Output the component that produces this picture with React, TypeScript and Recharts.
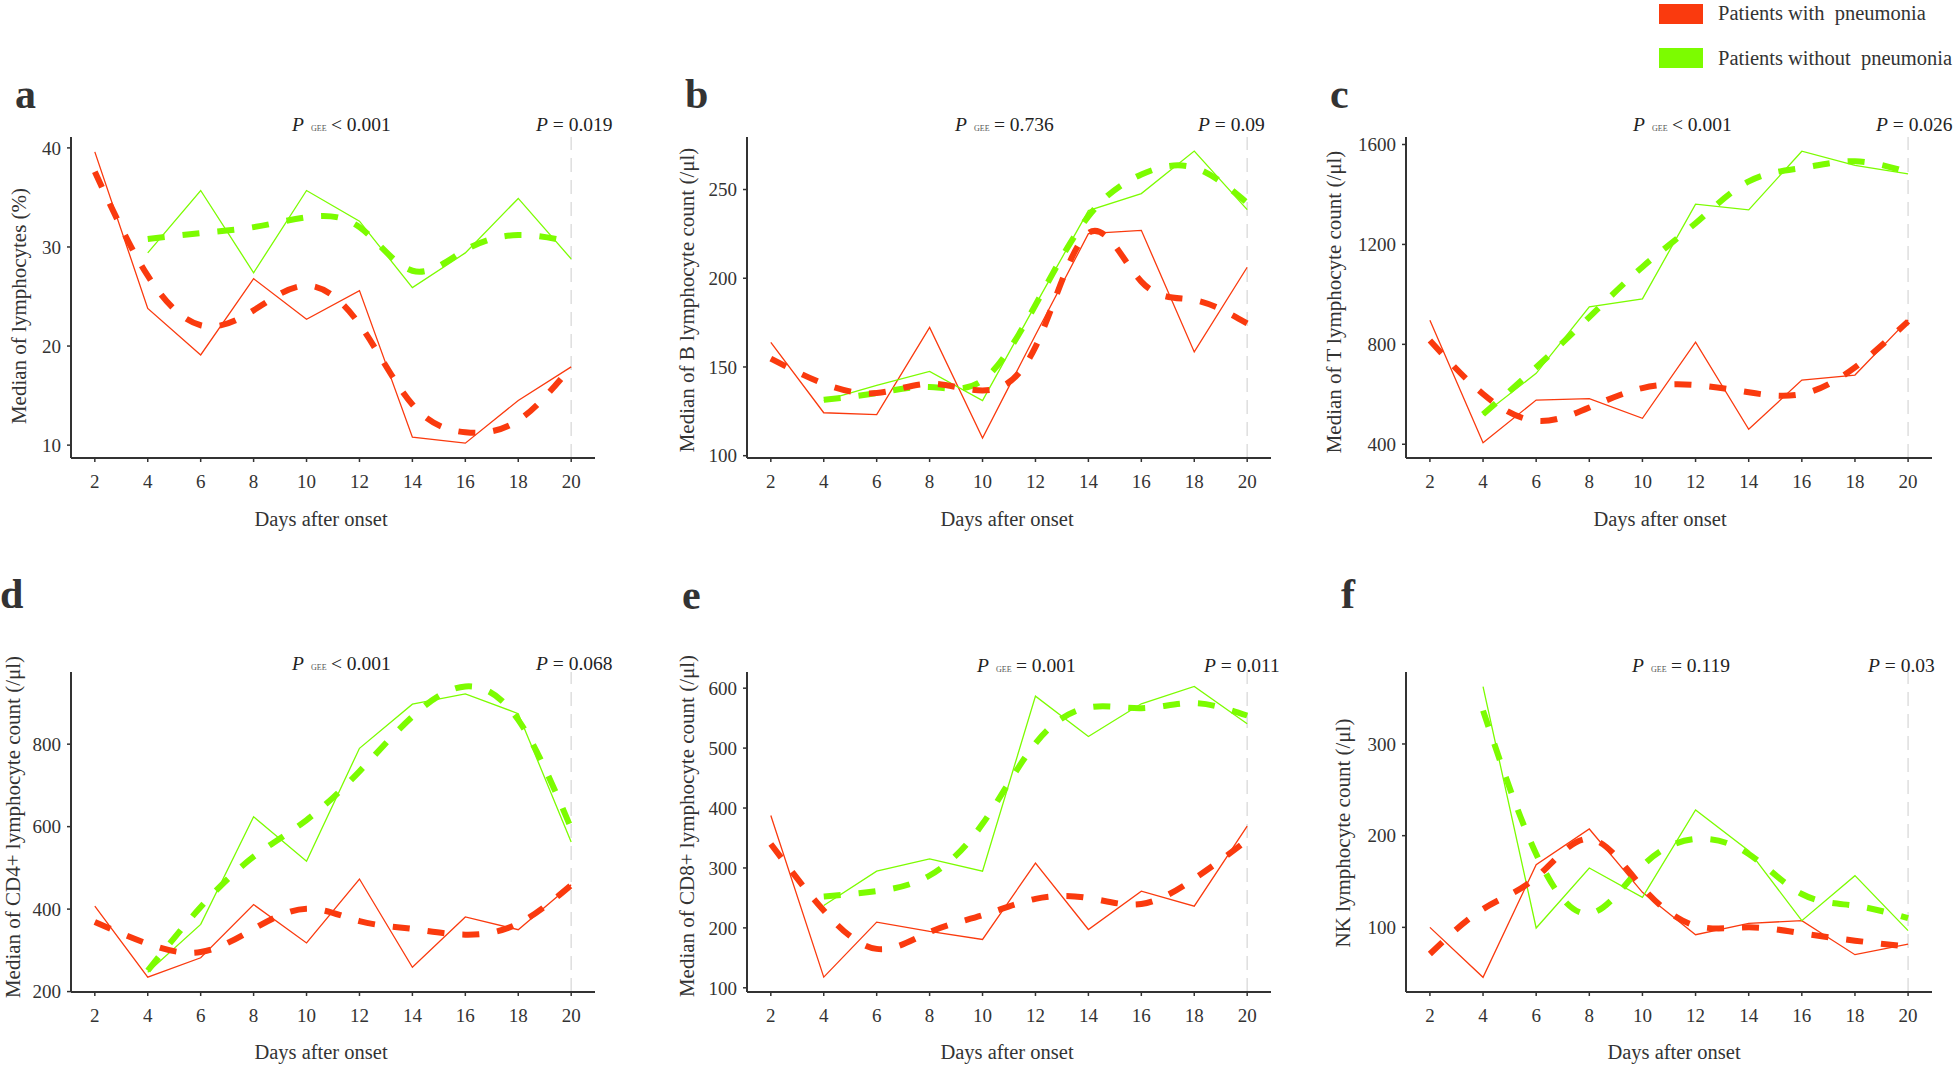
import React from 'react';
import { LineChart, Line, XAxis, YAxis, ReferenceLine } from 'recharts';

const days = [2, 4, 6, 8, 10, 12, 14, 16, 18, 20];

// a: Median of lymphocytes (%)
const aWithRaw = [39.6, 23.8, 19.1, 26.8, 22.7, 25.6, 10.8, 10.2, 14.5, 17.9];
const aWithSmooth = [37.6, 27.1, 22.1, 23.6, 26.1, 22.2, 14.1, 11.3, 12.5, 17.9];
const aWithoutRaw = [null, 29.4, 35.7, 27.4, 35.7, 32.6, 25.9, 29.4, 34.9, 28.8];
const aWithoutSmooth = [null, 30.8, 31.4, 32.0, 33.0, 32.0, 27.6, 29.7, 31.2, 30.5];
const aTicks = [10, 20, 30, 40];

// b: B lymphocyte
const bWithRaw = [163.8, 124.2, 123.2, 172.3, 110.0, 168.0, 225.1, 227.0, 158.5, 206.2];
const bWithSmooth = [154.7, 140.6, 135.3, 140.6, 136.8, 161.3, 225.5, 198.1, 187.7, 174.5];
const bWithoutRaw = [null, 131.1, 139.6, 147.5, 131.1, 185.0, 238.1, 247.7, 271.7, 238.7];
const bWithoutSmooth = [null, 131.5, 135.3, 138.7, 142.5, 184.9, 234.9, 258.5, 262.3, 242.5];
const bTicks = [100, 150, 200, 250];

// c: T lymphocyte
const cWithRaw = [896, 406, 577, 583, 504, 809, 460, 657, 677, 898];
const cWithSmooth = [815, 601, 494, 547, 625, 637, 608, 601, 708, 892];
const cWithoutRaw = [null, 518, 684, 950, 982, 1361, 1338, 1573, 1516, 1482];
const cWithoutSmooth = [null, 520, 708, 909, 1110, 1285, 1452, 1506, 1533, 1489];
const cTicks = [400, 800, 1200, 1600];

// d: CD4+
const dWithRaw = [407, 235, 282, 411, 318, 473, 259, 381, 350, 459];
const dWithSmooth = [369, 316, 296, 352, 401, 371, 352, 338, 365, 458];
const dWithoutRaw = [null, 247, 363, 624, 516, 790, 897, 922, 874, 563];
const dWithoutSmooth = [null, 251, 405, 527, 616, 734, 867, 940, 859, 596];
const dTicks = [200, 400, 600, 800];

// e: CD8+
const eWithRaw = [387.5, 117.8, 209.6, 194.0, 180.7, 308.0, 197.3, 261.3, 236.3, 369.7];
const eWithSmooth = [340, 229, 165, 193, 221, 248.5, 250, 240, 282, 346];
const eWithoutRaw = [null, 237.4, 294.7, 315.2, 294.7, 586.7, 519.4, 573.9, 602.8, 540.5];
const eWithoutSmooth = [null, 252.4, 261.3, 287.4, 373.6, 508, 568, 566.6, 575, 554.4];
const eTicks = [100, 200, 300, 400, 500, 600];

// f: NK
const fWithRaw = [100, 45.5, 168.4, 207.3, 138.2, 92.0, 104.4, 107.3, 70.2, 81.8];
const fWithSmooth = [71, 120, 154.5, 196.4, 143.6, 101.8, 100, 93.5, 85.5, 79];
const fWithoutRaw = [null, 362.5, 99.3, 164.7, 132.7, 228.0, 183.6, 107.3, 156.4, 96.4];
const fWithoutSmooth = [null, 336.4, 180, 115, 167, 196.4, 180, 136.4, 123.6, 110];
const fTicks = [100, 200, 300];

const legendLabels = ['Patients with  pneumonia', 'Patients without  pneumonia'];

const RED = '#FA3A0E';
const GREEN = '#7CFC00';
const AXIS = '#333333';
const FONT = '"Liberation Serif", "Times New Roman", serif';

type Panel = {
  letter: string;
  L: number; R: number; T: number; B: number;
  yDomain: [number, number];
  yTicks: number[];
  wr: (number | null)[]; ws: (number | null)[]; nr: (number | null)[]; ns: (number | null)[];
  yLabel: string; yLabelX: number; yLabelY: number;
  xLabelX: number; xLabelY: number;
  letterX: number; letterY: number;
  gx: number; gText: string; px: number; pText: string; pY: number;
};

const panels: Panel[] = [
  { letter: 'a', L: 71, R: 595, T: 137, B: 458, yDomain: [8.7, 41.1], yTicks: aTicks,
    wr: aWithRaw, ws: aWithSmooth, nr: aWithoutRaw, ns: aWithoutSmooth,
    yLabel: 'Median of lymphocytes (%)', yLabelX: 20, yLabelY: 306, xLabelX: 321, xLabelY: 526,
    letterX: 15, letterY: 108, gx: 292, gText: '< 0.001', px: 536, pText: '= 0.019', pY: 131 },
  { letter: 'b', L: 747, R: 1271, T: 137, B: 458, yDomain: [98.7, 279.6], yTicks: bTicks,
    wr: bWithRaw, ws: bWithSmooth, nr: bWithoutRaw, ns: bWithoutSmooth,
    yLabel: 'Median of B lymphocyte count (/μl)', yLabelX: 688, yLabelY: 300, xLabelX: 1007, xLabelY: 526,
    letterX: 685, letterY: 108, gx: 955, gText: '= 0.736', px: 1198, pText: '= 0.09', pY: 131 },
  { letter: 'c', L: 1406, R: 1932, T: 137, B: 458, yDomain: [345, 1630], yTicks: cTicks,
    wr: cWithRaw, ws: cWithSmooth, nr: cWithoutRaw, ns: cWithoutSmooth,
    yLabel: 'Median of T lymphocyte count (/μl)', yLabelX: 1335, yLabelY: 302, xLabelX: 1660, xLabelY: 526,
    letterX: 1330, letterY: 108, gx: 1633, gText: '< 0.001', px: 1876, pText: '= 0.026', pY: 131 },
  { letter: 'd', L: 71, R: 595, T: 672, B: 992, yDomain: [199, 975], yTicks: dTicks,
    wr: dWithRaw, ws: dWithSmooth, nr: dWithoutRaw, ns: dWithoutSmooth,
    yLabel: 'Median of CD4+ lymphocyte count (/μl)', yLabelX: 14, yLabelY: 827, xLabelX: 321, xLabelY: 1059,
    letterX: 0, letterY: 608, gx: 292, gText: '< 0.001', px: 536, pText: '= 0.068', pY: 670 },
  { letter: 'e', L: 747, R: 1271, T: 672, B: 992, yDomain: [93, 627], yTicks: eTicks,
    wr: eWithRaw, ws: eWithSmooth, nr: eWithoutRaw, ns: eWithoutSmooth,
    yLabel: 'Median of CD8+ lymphocyte count (/μl)', yLabelX: 688, yLabelY: 826, xLabelX: 1007, xLabelY: 1059,
    letterX: 682, letterY: 609, gx: 977, gText: '= 0.001', px: 1204, pText: '= 0.011', pY: 672 },
  { letter: 'f', L: 1406, R: 1932, T: 672, B: 992, yDomain: [29.5, 378.5], yTicks: fTicks,
    wr: fWithRaw, ws: fWithSmooth, nr: fWithoutRaw, ns: fWithoutSmooth,
    yLabel: 'NK lymphocyte count (/μl)', yLabelX: 1344, yLabelY: 833, xLabelX: 1674, xLabelY: 1059,
    letterX: 1341, letterY: 608, gx: 1632, gText: '= 0.119', px: 1868, pText: '= 0.03', pY: 672 },
];

const YW = 70;
const MT = 10;
const MR = 12;
const XH = 45;

const tickStyle = { fill: AXIS, fontSize: 19, fontFamily: FONT };

function PanelChart({ p }: { p: Panel }) {
  const rows = days.map((d, i) => ({ day: d, wr: p.wr[i], ws: p.ws[i], nr: p.nr[i], ns: p.ns[i] }));
  const w = YW + (p.R - p.L) + MR;
  const h = MT + (p.B - p.T) + XH;
  return (
    <div style={{ position: 'absolute', left: p.L - YW, top: p.T - MT, width: w, height: h }}>
      <LineChart width={w} height={h} data={rows} margin={{ top: MT, right: MR, bottom: 0, left: 0 }}>
        <XAxis dataKey="day" type="number" domain={[1.1, 20.9]} ticks={days} interval={0}
          allowDataOverflow height={XH} tickSize={4} tickMargin={13}
          axisLine={{ stroke: AXIS, strokeWidth: 2 }} tickLine={{ stroke: AXIS, strokeWidth: 1.5 }}
          tick={tickStyle} />
        <YAxis type="number" domain={p.yDomain} ticks={p.yTicks} interval={0} allowDataOverflow
          width={YW} tickSize={4} tickMargin={6}
          axisLine={{ stroke: AXIS, strokeWidth: 2 }} tickLine={{ stroke: AXIS, strokeWidth: 1.5 }}
          tick={tickStyle} />
        <ReferenceLine x={20} stroke="#dedede" strokeWidth={1.5} strokeDasharray="14 8" />
        <Line dataKey="wr" type="linear" stroke={RED} strokeWidth={1.3} dot={false} isAnimationActive={false} />
        <Line dataKey="nr" type="linear" stroke={GREEN} strokeWidth={1.3} dot={false} isAnimationActive={false} />
        <Line dataKey="ns" type="natural" stroke={GREEN} strokeWidth={6} strokeDasharray="17 18" dot={false} isAnimationActive={false} />
        <Line dataKey="ws" type="natural" stroke={RED} strokeWidth={6} strokeDasharray="17 18" dot={false} isAnimationActive={false} />
      </LineChart>
    </div>
  );
}

function Overlay() {
  return (
    <svg width={1956} height={1066} style={{ position: 'absolute', left: 0, top: 0, pointerEvents: 'none' }}
      fontFamily={FONT}>
      {/* legend */}
      <rect x={1659} y={4} width={44} height={20} fill={RED} />
      <rect x={1659} y={48} width={44} height={20} fill={GREEN} />
      <text x={1718} y={20} fontSize={20.5} fill="#333" style={{ whiteSpace: 'pre' }}>{legendLabels[0]}</text>
      <text x={1718} y={65} fontSize={20.5} fill="#333" style={{ whiteSpace: 'pre' }}>{legendLabels[1]}</text>
      {panels.map((p) => (
        <g key={p.letter}>
          <text x={p.letterX} y={p.letterY} fontSize={42} fontWeight="bold" fill="#333">{p.letter}</text>
          <text x={p.gx} y={p.pY} fontSize={19.5} fill="#222">
            <tspan fontStyle="italic">P</tspan>
          </text>
          <text x={p.gx + 19} y={p.pY} fontSize={8} fill="#555">GEE</text>
          <text x={p.gx + 39} y={p.pY} fontSize={19.5} fill="#222">{p.gText}</text>
          <text x={p.px} y={p.pY} fontSize={19.5} fill="#222">
            <tspan fontStyle="italic">P</tspan>
            <tspan> {p.pText}</tspan>
          </text>
          <text x={p.xLabelX} y={p.xLabelY} fontSize={20.5} fill="#333" textAnchor="middle">Days after onset</text>
          <text transform={`translate(${p.yLabelX + 6}, ${p.yLabelY}) rotate(-90)`} fontSize={21} fill="#333"
            textAnchor="middle">{p.yLabel}</text>
        </g>
      ))}
    </svg>
  );
}

export default function App() {
  return (
    <div style={{ position: 'absolute', left: 0, top: 0, width: 1956, height: 1066, background: '#fff', overflow: 'hidden' }}>
      {panels.map((p) => (
        <PanelChart key={p.letter} p={p} />
      ))}
      <Overlay />
    </div>
  );
}
